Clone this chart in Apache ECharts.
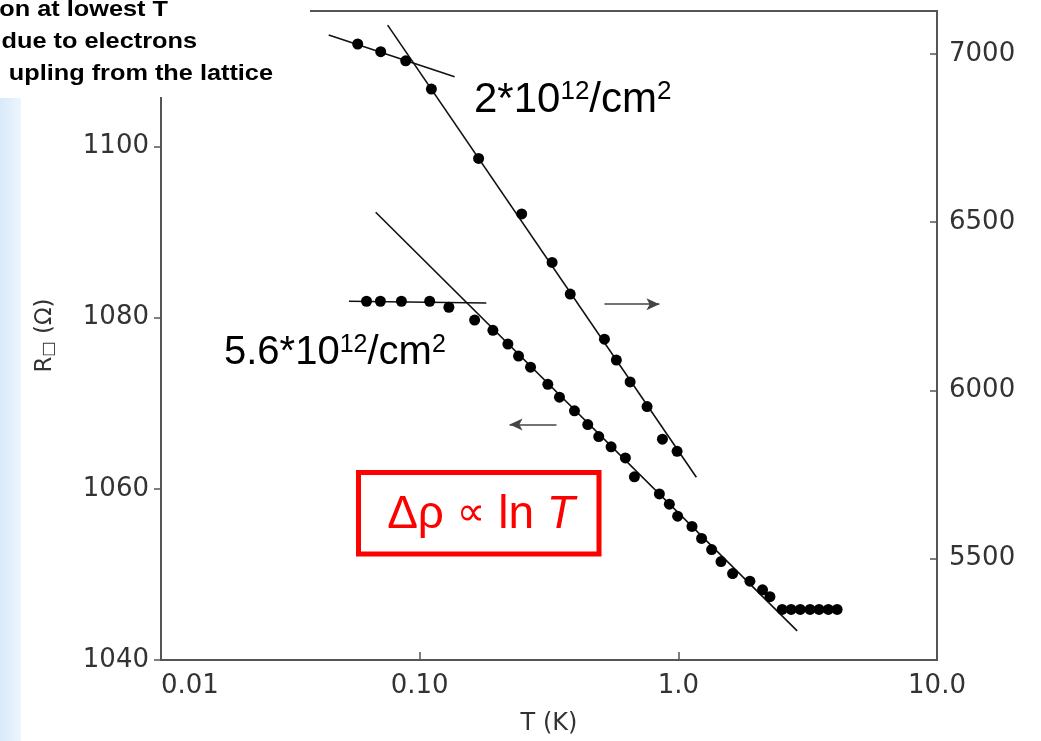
<!DOCTYPE html>
<html>
<head>
<meta charset="utf-8">
<script src="https://cdn.jsdelivr.net/npm/echarts@6/dist/echarts.min.js"></script>
<style>
  html, body { margin: 0; padding: 0; background: #fff; }
  #chart { width: 1041px; height: 741px; }
</style>
</head>
<body>
<div id="chart"></div>
<script>
// 2*10^12/cm^2 sample (right axis)
const upperT = [0.0576, 0.0707, 0.0883, 0.111, 0.169, 0.248, 0.325, 0.382, 0.518, 0.576, 0.651, 0.757, 0.868, 0.989];
const upperR = [7029, 7006, 6979, 6895, 6689, 6524, 6380, 6286, 6152, 6090, 6025, 5952, 5855, 5819];

// 5.6*10^12/cm^2 sample (left axis)
const lowerT = [0.0623, 0.0705, 0.085, 0.1093, 0.1297, 0.1631, 0.1919, 0.2193, 0.2411, 0.2683, 0.3129,
  0.3471, 0.3968, 0.4465, 0.4924, 0.5497, 0.6242, 0.6763, 0.8447, 0.9232, 0.9938, 1.129, 1.23, 1.345,
  1.462, 1.621, 1.891, 2.116, 2.26, 2.52, 2.73, 2.96, 3.23, 3.5, 3.8, 4.11];
const lowerR = [1081.9, 1081.9, 1081.9, 1081.9, 1081.2, 1079.7, 1078.5, 1076.9, 1075.5, 1074.2, 1072.2,
  1070.7, 1069.1, 1067.5, 1066.1, 1064.9, 1063.6, 1061.4, 1059.4, 1058.2, 1056.8, 1055.6, 1054.2, 1052.9,
  1051.5, 1050.1, 1049.2, 1048.2, 1047.4, 1045.9, 1045.9, 1045.9, 1045.9, 1045.9, 1045.9, 1045.9];

// guide lines drawn through the data
const upperFlatT = [0.0445, 0.1365];
const upperFlatR = [7056, 6932];
const upperSteepT = [0.0752, 1.174];
const upperSteepR = [7085, 5742];
const lowerFlatT = [0.0533, 0.181];
const lowerFlatR = [1081.9, 1081.7];
const lowerSteepT = [0.0676, 2.88];
const lowerSteepR = [1092.3, 1043.4];

// arrows telling which axis belongs to which curve
const rightArrowT = [0.518, 0.845];
const rightArrowR = 6256;
const leftArrowT = [0.338, 0.2226];
const leftArrowR = 1067.5;

// axis ticks
const xTicks = { 0.01: '0.01', 0.1: '0.10', 1: '1.0', 10: '10.0' };
const leftTicks = [1040, 1060, 1080, 1100];
const rightTicks = [5500, 6000, 6500, 7000];

const pairs = (xs, ys) => xs.map((x, i) => [x, ys[i]]);

const axisColor = '#555';
const labelFont = { fontFamily: 'DejaVu Sans', fontSize: 26, color: '#333' };

const fitLine = (name, xs, ys, yAxisIndex) => ({
  name,
  type: 'line',
  yAxisIndex,
  data: pairs(xs, ys),
  symbol: 'none',
  lineStyle: { color: '#111', width: 1.6 },
  z: 3,
});

const arrow = (xs, y) => ({
  silent: true,
  symbol: ['none', 'arrow'],
  symbolSize: [9, 13],
  label: { show: false },
  lineStyle: { color: '#444', width: 1.5, type: 'solid' },
  data: [[{ coord: [xs[0], y] }, { coord: [xs[1], y] }]],
});

const chart = echarts.init(document.getElementById('chart'));
chart.setOption({
  animation: false,
  grid: {
    left: 161, right: 104, top: 11, bottom: 77,
    show: true, borderColor: axisColor, borderWidth: 2,
  },
  xAxis: {
    type: 'log',
    logBase: 10,
    min: 0.01,
    max: 10,
    name: 'T (K)',
    nameLocation: 'middle',
    nameGap: 52,
    nameTextStyle: { fontFamily: 'DejaVu Sans', fontSize: 24, color: '#333' },
    axisLine: { lineStyle: { color: axisColor, width: 2 } },
    axisTick: { inside: true, length: 8, lineStyle: { color: axisColor, width: 1.5 } },
    minorTick: { show: false },
    splitLine: { show: false },
    axisLabel: {
      ...labelFont,
      margin: 13,
      alignMinLabel: 'left',
      formatter: (v) => {
        const key = Object.keys(xTicks).find((k) => Math.abs(Math.log10(v) - Math.log10(+k)) < 0.01);
        return key ? xTicks[key] : '';
      },
    },
  },
  yAxis: [
    {
      type: 'value',
      position: 'left',
      min: 1040,
      max: 1115.8,
      name: 'R{s|□} (Ω)',
      nameLocation: 'middle',
      nameGap: 104,
      nameRotate: 90,
      nameTextStyle: {
        fontFamily: 'DejaVu Sans', fontSize: 23, color: '#333',
        rich: { s: { fontFamily: 'DejaVu Sans', fontSize: 16, color: '#333', verticalAlign: 'bottom' } },
      },
      axisLine: { show: true, lineStyle: { color: axisColor, width: 2 } },
      axisTick: { show: true, length: 7, customValues: leftTicks, lineStyle: { color: axisColor, width: 1.5 } },
      axisLabel: { ...labelFont, margin: 12, customValues: leftTicks, formatter: (v) => String(v) },
      splitLine: { show: false },
    },
    {
      type: 'value',
      position: 'right',
      min: 5199,
      max: 7127,
      axisLine: { show: true, lineStyle: { color: axisColor, width: 2 } },
      axisTick: { show: true, inside: true, length: 7, customValues: rightTicks, lineStyle: { color: axisColor, width: 1.5 } },
      axisLabel: { ...labelFont, margin: 12, customValues: rightTicks, formatter: (v) => String(v) },
      splitLine: { show: false },
    },
  ],
  series: [
    fitLine('upper flat', upperFlatT, upperFlatR, 1),
    fitLine('upper steep', upperSteepT, upperSteepR, 1),
    fitLine('lower flat', lowerFlatT, lowerFlatR, 0),
    fitLine('lower steep', lowerSteepT, lowerSteepR, 0),
    {
      name: '2*10^12/cm^2',
      type: 'scatter',
      yAxisIndex: 1,
      data: pairs(upperT, upperR),
      symbolSize: 11,
      itemStyle: { color: '#000', opacity: 1 },
      z: 4,
      markLine: arrow(rightArrowT, rightArrowR),
    },
    {
      name: '5.6*10^12/cm^2',
      type: 'scatter',
      yAxisIndex: 0,
      data: pairs(lowerT, lowerR),
      symbolSize: 11,
      itemStyle: { color: '#000', opacity: 1 },
      z: 4,
      markLine: arrow(leftArrowT, leftArrowR),
    },
  ],
  graphic: [
    // pale blue slide edge
    {
      type: 'rect', z: 1, silent: true,
      shape: { x: 0, y: 98, width: 21, height: 643 },
      style: {
        fill: new echarts.graphic.LinearGradient(0, 0, 1, 0, [
          { offset: 0, color: '#d8eafa' },
          { offset: 1, color: '#edf5fd' },
        ]),
      },
    },
    // white block behind the cut-off note
    {
      type: 'rect', z: 100, silent: true,
      shape: { x: 0, y: 0, width: 310, height: 97 },
      style: { fill: '#fff' },
    },
    {
      type: 'group', x: 168, y: 10, scaleX: 1.15, z: 101,
      children: [{
        type: 'text', z: 101,
        style: { text: 'on at lowest T', x: 0, y: 0, align: 'right', verticalAlign: 'middle',
          fontFamily: 'Liberation Sans', fontWeight: 'bold', fontSize: 22, fill: '#000' },
      }],
    },
    {
      type: 'group', x: 197, y: 42, scaleX: 1.15, z: 101,
      children: [{
        type: 'text', z: 101,
        style: { text: 'due to electrons', x: 0, y: 0, align: 'right', verticalAlign: 'middle',
          fontFamily: 'Liberation Sans', fontWeight: 'bold', fontSize: 22, fill: '#000' },
      }],
    },
    {
      type: 'group', x: 273, y: 74, scaleX: 1.15, z: 101,
      children: [{
        type: 'text', z: 101,
        style: { text: 'upling from the lattice', x: 0, y: 0, align: 'right', verticalAlign: 'middle',
          fontFamily: 'Liberation Sans', fontWeight: 'bold', fontSize: 22, fill: '#000' },
      }],
    },
    // density labels
    {
      type: 'text', z: 50, x: 474, y: 79,
      style: {
        text: '2*10{sup|12}/cm{sup|2}',
        fontFamily: 'Liberation Sans', fontSize: 42, lineHeight: 42, fill: '#000',
        rich: { sup: { fontFamily: 'Liberation Sans', fontSize: 26, lineHeight: 26, verticalAlign: 'top', fill: '#000' } },
      },
    },
    {
      type: 'text', z: 50, x: 224, y: 333,
      style: {
        text: '5.6*10{sup|12}/cm{sup|2}',
        fontFamily: 'Liberation Sans', fontSize: 40, lineHeight: 40, fill: '#000',
        rich: { sup: { fontFamily: 'Liberation Sans', fontSize: 25, lineHeight: 25, verticalAlign: 'top', fill: '#000' } },
      },
    },
    // red boxed formula
    {
      type: 'rect', z: 50, silent: true,
      shape: { x: 358.5, y: 472.5, width: 240.5, height: 81.5 },
      style: { fill: '#fff', stroke: '#ff0000', lineWidth: 5 },
    },
    {
      type: 'text', z: 51, x: 481, y: 515,
      style: {
        text: 'Δρ {p|∝} ln {i|T}',
        align: 'center', verticalAlign: 'middle',
        fontFamily: 'Liberation Sans', fontSize: 46, fill: '#ff0000',
        rich: {
          p: { fontFamily: 'DejaVu Sans', fontSize: 40, fill: '#ff0000' },
          i: { fontFamily: 'Liberation Sans', fontStyle: 'italic', fontSize: 46, fill: '#ff0000' },
        },
      },
    },
  ],
});
</script>
</body>
</html>
